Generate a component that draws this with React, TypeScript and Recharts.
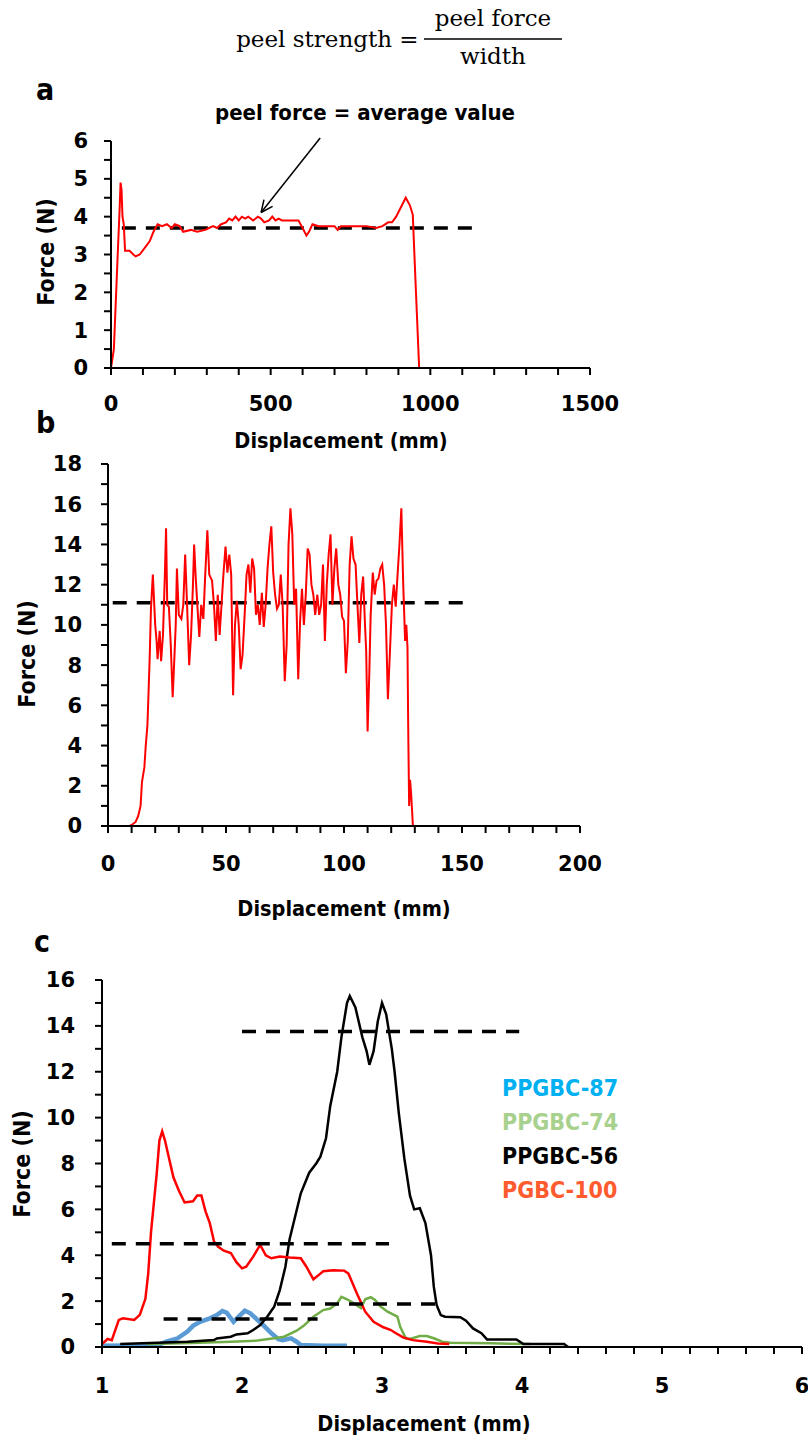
import React from 'react';
import { LineChart, Line, XAxis, YAxis, ReferenceLine, Legend } from 'recharts';

// ---- panel a : single peel test, displacement 0-1500 ----
const aCurve: [number, number][] = [
  [0, 0], [9, 0.5], [21, 3], [27, 4.2], [30, 4.9], [33, 4.7], [36, 4.0], [40, 3.8], [44, 3.1],
  [58, 3.1], [70, 3.0], [77, 2.95], [90, 3.0], [108, 3.2], [121, 3.35], [133, 3.6], [146, 3.8],
  [160, 3.75], [175, 3.8], [190, 3.7], [200, 3.8], [215, 3.75], [226, 3.6], [250, 3.65], [270, 3.6],
  [295, 3.65], [307, 3.7], [320, 3.75], [332, 3.7], [345, 3.8], [360, 3.85], [370, 3.95], [380, 3.9],
  [390, 4.0], [400, 3.9], [410, 4.0], [420, 3.95], [430, 4.0], [445, 3.9], [460, 4.0], [470, 3.95],
  [480, 3.85], [495, 3.9], [505, 4.0], [515, 3.9], [525, 3.95], [535, 3.9], [560, 3.9], [587, 3.9],
  [600, 3.7], [612, 3.5], [620, 3.6], [631, 3.8], [650, 3.75], [700, 3.75], [710, 3.65], [720, 3.75],
  [760, 3.75], [800, 3.75], [830, 3.7], [850, 3.75], [868, 3.85], [880, 3.85], [893, 4.0], [911, 4.3],
  [923, 4.5], [936, 4.3], [945, 4.05], [955, 2.0], [965, 0], [1100, 0], [1260, 0],
];
const aMean = { y: 3.7, from: 34, to: 1155 };
// arrow: start, tip, two head arms (data coords)
const aArrow: [number, number][] = [[655, 6.08], [470, 4.11], [506, 4.27], [479, 4.45]];
const aXTicks = [0, 100, 200, 300, 400, 500, 600, 700, 800, 900, 1000, 1100, 1200, 1300, 1400, 1500];
const aYTicks = [0, 0.5, 1, 1.5, 2, 2.5, 3, 3.5, 4, 4.5, 5, 5.5, 6];

// ---- panel b : 0-200 mm ----
const bCurve: [number, number][] = [
  [0, 0], [9.2, 0], [10, 0.05], [11.7, 0.2], [12.8, 0.5], [13.8, 1.0], [14.4, 2.2], [15.4, 2.9], [16, 4],
  [16.7, 5], [17, 6], [17.7, 8.5], [18.2, 10.8], [19, 12.5], [19.4, 11.5], [20, 10], [20.6, 9.2], [21, 8.3],
  [21.9, 9.7], [22.5, 8.2], [23.3, 9.5], [24.1, 12.5], [24.6, 14.8], [25.1, 11], [25.8, 10.9], [26.6, 9],
  [27.4, 6.4], [28, 8], [28.7, 10], [29.2, 12.8], [30, 10.5], [31.1, 10.3], [31.9, 11], [32.7, 13.5],
  [33.5, 11], [34.4, 8], [35.2, 9.5], [36, 12], [36.5, 14], [37.1, 12.5], [38.1, 10.5], [38.7, 9.4],
  [39.5, 11], [40.4, 10.3], [41.2, 12.5], [42.1, 14.7], [42.9, 12.5], [44.1, 12.2], [44.9, 11], [45.7, 9.2],
  [46.5, 11.5], [47.3, 9.5], [48.1, 11], [48.9, 12.5], [49.8, 13.9], [50.6, 12.6], [51.4, 13.5], [52.2, 12.5],
  [53, 6.5], [53.8, 10], [54.6, 11.2], [55.4, 10], [56.2, 7.8], [57, 8.5], [57.9, 10.5], [58.7, 12.5],
  [59.5, 13], [60.3, 11.6], [61.1, 13.3], [61.9, 12.8], [62.7, 10.5], [63.5, 11], [64.3, 10], [65.2, 11.6],
  [66, 9.9], [66.8, 11], [67.6, 12.8], [68.4, 14], [69.2, 14.9], [70, 12.6], [70.8, 11.5], [71.6, 10.8],
  [72.4, 11], [73.2, 12.5], [74, 11], [74.9, 7.2], [75.7, 9], [76.5, 14], [77.3, 15.8], [78.1, 14.5],
  [78.9, 11], [79.7, 11.8], [80.6, 7.3], [81.4, 10.2], [82.2, 11.8], [83, 10], [83.8, 11.5], [84.6, 13.8],
  [85.4, 13.5], [86.2, 12], [87, 11.5], [87.8, 10.5], [88.7, 11.5], [89.5, 10.5], [90.3, 11], [91.1, 13],
  [91.9, 9.2], [92.7, 12], [93.5, 13.5], [94.3, 14.5], [95.1, 11], [95.9, 12.8], [96.7, 13.8], [97.6, 12],
  [98.4, 11.5], [99.2, 10.4], [100, 10.2], [100.8, 7.6], [101.6, 9.2], [102.4, 13], [103.2, 14.4],
  [104, 13.3], [104.9, 13], [105.7, 11], [106.5, 9.1], [107.3, 11.5], [108.1, 12.4], [108.9, 10],
  [109.4, 8.7], [110, 4.7], [110.7, 7.5], [111.3, 10.5], [112.2, 12.6], [113, 11.5], [113.8, 12.2],
  [114.6, 12.3], [115.4, 12.8], [116.2, 13], [117, 12], [117.8, 10], [118.6, 6.3], [119.4, 8.5],
  [120.3, 11], [121.1, 12], [121.9, 10.9], [122.7, 12.5], [123.5, 14], [124.3, 15.8], [125.1, 12],
  [125.9, 9.2], [126.4, 10], [126.9, 8.9], [127.2, 5], [127.6, 1.0], [128, 2.3], [128.5, 1.5],
  [129.2, 0], [150, 0],
];
const bMean = { y: 11.1, from: 2, to: 151 };
const bXTicks = [0, 10, 20, 30, 40, 50, 60, 70, 80, 90, 100, 110, 120, 130, 140, 150, 160, 170, 180, 190, 200];
const bYTicks = [0, 1, 2, 3, 4, 5, 6, 7, 8, 9, 10, 11, 12, 13, 14, 15, 16, 17, 18];

// ---- panel c : four samples, 1-6 mm ----
const cPPGBC87: [number, number][] = [
  [1.0, 0.05], [1.2, 0.06], [1.39, 0.05], [1.46, 0.23], [1.54, 0.38], [1.61, 0.67], [1.65, 0.92],
  [1.7, 1.1], [1.77, 1.25], [1.82, 1.39], [1.86, 1.57], [1.89, 1.5], [1.94, 1.1], [1.98, 1.35],
  [2.02, 1.58], [2.06, 1.47], [2.11, 1.18], [2.15, 0.96], [2.21, 0.6], [2.26, 0.34], [2.29, 0.3],
  [2.35, 0.38], [2.39, 0.23], [2.42, 0.09], [2.58, 0.05], [2.75, 0.05],
];
const cPPGBC74: [number, number][] = [
  [1.32, 0.13], [1.64, 0.17], [1.92, 0.23], [2.11, 0.28], [2.23, 0.38], [2.3, 0.45], [2.39, 0.71],
  [2.44, 0.92], [2.51, 1.32], [2.58, 1.61], [2.63, 1.68], [2.68, 1.9], [2.71, 2.19], [2.75, 2.08],
  [2.8, 1.9], [2.85, 1.69], [2.88, 2.08], [2.92, 2.17], [2.95, 2.05], [2.99, 1.76], [3.04, 1.54],
  [3.11, 1.32], [3.13, 0.88], [3.17, 0.38], [3.2, 0.35], [3.27, 0.48], [3.32, 0.48], [3.37, 0.38],
  [3.43, 0.23], [3.49, 0.19], [3.77, 0.16], [4.06, 0.13],
];
const cPPGBC56: [number, number][] = [
  [1.13, 0.13], [1.61, 0.23], [1.8, 0.3], [1.82, 0.37], [1.92, 0.45], [1.96, 0.55], [2.04, 0.6],
  [2.08, 0.74], [2.13, 0.96], [2.18, 1.32], [2.23, 1.76], [2.27, 2.48], [2.31, 3.5], [2.34, 4.7],
  [2.38, 5.7], [2.42, 6.7], [2.48, 7.6], [2.53, 8.0], [2.56, 8.3], [2.6, 9.1], [2.63, 10.5], [2.68, 12.0],
  [2.71, 13.5], [2.75, 15.0], [2.77, 15.3], [2.81, 14.8], [2.86, 13.5], [2.89, 12.9], [2.91, 12.3],
  [2.94, 12.9], [2.97, 14.2], [3.0, 15.0], [3.03, 14.5], [3.07, 13.0], [3.09, 12.0], [3.12, 10.2],
  [3.16, 8.2], [3.2, 6.6], [3.23, 6.0], [3.27, 6.05], [3.31, 5.4], [3.35, 4.0], [3.37, 2.63], [3.39, 1.83],
  [3.42, 1.39], [3.45, 1.32], [3.56, 1.3], [3.6, 1.15], [3.65, 0.81], [3.71, 0.6], [3.75, 0.33],
  [3.96, 0.33], [4.01, 0.13], [4.3, 0.13], [4.33, 0],
];
const cPGBC100: [number, number][] = [
  [1.0, 0.13], [1.04, 0.35], [1.07, 0.3], [1.12, 1.18], [1.15, 1.25], [1.23, 1.18], [1.27, 1.4],
  [1.31, 2.1], [1.33, 3.2], [1.35, 5.0], [1.39, 7.5], [1.41, 9.0], [1.43, 9.4], [1.45, 9.0], [1.48, 8.2],
  [1.51, 7.4], [1.55, 6.8], [1.59, 6.3], [1.65, 6.35], [1.68, 6.6], [1.71, 6.6], [1.74, 5.9], [1.77, 5.4],
  [1.8, 4.6], [1.83, 4.37], [1.87, 4.2], [1.92, 4.1], [1.96, 3.7], [2.0, 3.43], [2.03, 3.5], [2.08, 3.94],
  [2.13, 4.45], [2.17, 4.0], [2.21, 3.87], [2.27, 3.94], [2.34, 3.9], [2.42, 3.87], [2.46, 3.5],
  [2.51, 2.95], [2.56, 3.2], [2.58, 3.3], [2.65, 3.35], [2.73, 3.33], [2.76, 3.2], [2.82, 2.34],
  [2.88, 1.54], [2.94, 1.1], [3.01, 0.86], [3.06, 0.75], [3.1, 0.6], [3.15, 0.42], [3.22, 0.3],
  [3.32, 0.23], [3.4, 0.15], [3.48, 0.13],
];
const cMeans = [
  { y: 13.75, from: 2.0, to: 3.98 },
  { y: 4.5, from: 1.07, to: 3.05 },
  { y: 1.87, from: 2.25, to: 3.38 },
  { y: 1.22, from: 1.44, to: 2.54 },
];
const cNames = ['PPGBC-87', 'PPGBC-74', 'PPGBC-56', 'PGBC-100'];
const cLineColors = ['#5B9BD5', '#70AD47', '#000000', '#FF0000'];
const cLegendColors = ['#00B0F0', '#A9D18E', '#000000', '#FF5B2E'];
const cXTicks = [1, 1.2, 1.4, 1.6, 1.8, 2, 2.2, 2.4, 2.6, 2.8, 3, 3.2, 3.4, 3.6, 3.8, 4, 4.2, 4.4, 4.6, 4.8, 5, 5.2, 5.4, 5.6, 5.8, 6];
const cYTicks = [0, 1, 2, 3, 4, 5, 6, 7, 8, 9, 10, 11, 12, 13, 14, 15, 16];

const toPts = (pairs: [number, number][]) => pairs.map(([x, y]) => ({ x, y }));

const DIGITS = "'DejaVu Sans', sans-serif";
const TEXT = "'DejaVu Sans Condensed', 'DejaVu Sans', sans-serif";
const tickStyle = { fill: '#000', fontSize: 21, fontWeight: 700, fontFamily: DIGITS };
const axisStroke = { stroke: '#000', strokeWidth: 2 };
const dash = { stroke: '#000', strokeWidth: 3.5, strokeDasharray: '14 10' };

const intLabel = (v: number) => (Number.isInteger(v) ? String(v) : '');
const everyLabel = (step: number) => (v: number) => (v % step === 0 ? String(v) : '');

const Title: React.FC<{ x: number; y: number; children: React.ReactNode; rotate?: boolean; size?: number }> = ({
  x, y, children, rotate, size = 21.5,
}) => (
  <text
    x={x}
    y={y}
    textAnchor="middle"
    dominantBaseline="central"
    fontFamily={TEXT}
    fontWeight={700}
    fontSize={size}
    fill="#000"
    transform={rotate ? `rotate(-90 ${x} ${y})` : undefined}
  >
    {children}
  </text>
);

const App: React.FC = () => {
  const aData = toPts(aCurve);
  const bData = toPts(bCurve);
  const cSeries = [cPPGBC87, cPPGBC74, cPPGBC56, cPGBC100].map(toPts);

  return (
    <div style={{ position: 'absolute', left: 0, top: 0, width: 808, height: 1439, background: '#fff' }}>
      {/* a */}
      <div style={{ position: 'absolute', left: 0, top: 110 }}>
        <LineChart width={808} height={318} data={aData} margin={{ top: 31, right: 218, bottom: 0, left: 51 }}>
          <XAxis
            dataKey="x" type="number" domain={[0, 1500]} ticks={aXTicks} interval={0}
            tickFormatter={everyLabel(500)} tick={tickStyle} axisLine={axisStroke} tickLine={axisStroke}
            tickSize={7} tickMargin={21} height={60}
          />
          <YAxis
            type="number" domain={[0, 6]} ticks={aYTicks} interval={0} tickFormatter={intLabel}
            tick={tickStyle} axisLine={axisStroke} tickLine={axisStroke} tickSize={7} tickMargin={16} width={60}
          />
          <ReferenceLine segment={[{ x: aMean.from, y: aMean.y }, { x: aMean.to, y: aMean.y }]} {...dash} />
          <Line dataKey="y" type="linear" stroke="#FF0000" strokeWidth={2} dot={false} isAnimationActive={false} />
          <ReferenceLine segment={[{ x: aArrow[0][0], y: aArrow[0][1] }, { x: aArrow[1][0], y: aArrow[1][1] }]} stroke="#000" strokeWidth={1.5} ifOverflow="visible" />
          <ReferenceLine segment={[{ x: aArrow[1][0], y: aArrow[1][1] }, { x: aArrow[2][0], y: aArrow[2][1] }]} stroke="#000" strokeWidth={1.5} ifOverflow="visible" />
          <ReferenceLine segment={[{ x: aArrow[1][0], y: aArrow[1][1] }, { x: aArrow[3][0], y: aArrow[3][1] }]} stroke="#000" strokeWidth={1.5} ifOverflow="visible" />
        </LineChart>
      </div>

      {/* b */}
      <div style={{ position: 'absolute', left: 0, top: 440 }}>
        <LineChart width={808} height={446} data={bData} margin={{ top: 24, right: 228, bottom: 0, left: 48 }}>
          <XAxis
            dataKey="x" type="number" domain={[0, 200]} ticks={bXTicks} interval={0}
            tickFormatter={everyLabel(50)} tick={tickStyle} axisLine={axisStroke} tickLine={axisStroke}
            tickSize={7} tickMargin={23} height={60}
          />
          <YAxis
            type="number" domain={[0, 18]} ticks={bYTicks} interval={0} tickFormatter={everyLabel(2)}
            tick={tickStyle} axisLine={axisStroke} tickLine={axisStroke} tickSize={7} tickMargin={19} width={60}
          />
          <ReferenceLine segment={[{ x: bMean.from, y: bMean.y }, { x: bMean.to, y: bMean.y }]} {...dash} />
          <Line dataKey="y" type="linear" stroke="#FF0000" strokeWidth={2} dot={false} isAnimationActive={false} />
        </LineChart>
      </div>

      {/* c */}
      <div style={{ position: 'absolute', left: 0, top: 960 }}>
        <LineChart width={808} height={447} margin={{ top: 20, right: 6, bottom: 0, left: 42 }}>
          <XAxis
            dataKey="x" type="number" domain={[1, 6]} ticks={cXTicks} interval={0}
            tickFormatter={intLabel} tick={tickStyle} axisLine={axisStroke} tickLine={axisStroke}
            tickSize={7} tickMargin={24} height={60} allowDuplicatedCategory={false}
          />
          <YAxis
            type="number" domain={[0, 16]} ticks={cYTicks} interval={0} tickFormatter={everyLabel(2)}
            tick={tickStyle} axisLine={axisStroke} tickLine={axisStroke} tickSize={7} tickMargin={20} width={60}
          />
          {cSeries.map((pts, i) => (
            <Line
              key={cNames[i]}
              name={cNames[i]}
              data={pts}
              dataKey="y"
              type="linear"
              stroke={cLineColors[i]}
              strokeWidth={i === 0 ? 4.5 : 2.5}
              dot={false}
              isAnimationActive={false}
            />
          ))}
          {cMeans.map((m, i) => (
            <ReferenceLine key={i} segment={[{ x: m.from, y: m.y }, { x: m.to, y: m.y }]} {...dash} />
          ))}
          <Legend
            layout="vertical"
            align="center"
            verticalAlign="middle"
            wrapperStyle={{ left: 502, top: 111, width: 'auto' }}
            content={() => (
              <div style={{ fontFamily: TEXT, fontWeight: 700, fontSize: 23, lineHeight: '34px' }}>
                {cNames.map((n, i) => (
                  <div key={n} style={{ color: cLegendColors[i] }}>{n}</div>
                ))}
              </div>
            )}
          />
        </LineChart>
      </div>

      {/* text overlay: formula, panel letters, axis titles */}
      <svg width={808} height={1439} style={{ position: 'absolute', left: 0, top: 0, pointerEvents: 'none' }}>
        <g fontFamily="'DejaVu Serif', serif" fontSize={23} fill="#000">
          <text x={392} y={47} textAnchor="end">peel strength</text>
          <text x={409} y={47} textAnchor="middle">=</text>
          <text x={493} y={26} textAnchor="middle">peel force</text>
          <text x={493} y={64} textAnchor="middle">width</text>
        </g>
        <line x1={424} x2={562} y1={39} y2={39} stroke="#000" strokeWidth={1.5} />

        <g fontFamily={TEXT} fontWeight={700} fontSize={30} fill="#000">
          <text x={36} y={100}>a</text>
          <text x={36} y={433}>b</text>
          <text x={34} y={952}>c</text>
        </g>
        <Title x={365} y={112} size={22}>peel force = average value</Title>

        <Title x={341} y={440}>Displacement (mm)</Title>
        <Title x={46} y={252} size={23} rotate>Force (N)</Title>

        <Title x={344} y={908}>Displacement (mm)</Title>
        <Title x={27} y={654} size={23} rotate>Force (N)</Title>

        <Title x={424} y={1423}>Displacement (mm)</Title>
        <Title x={22} y={1164} size={23} rotate>Force (N)</Title>
      </svg>
    </div>
  );
};

export default App;
